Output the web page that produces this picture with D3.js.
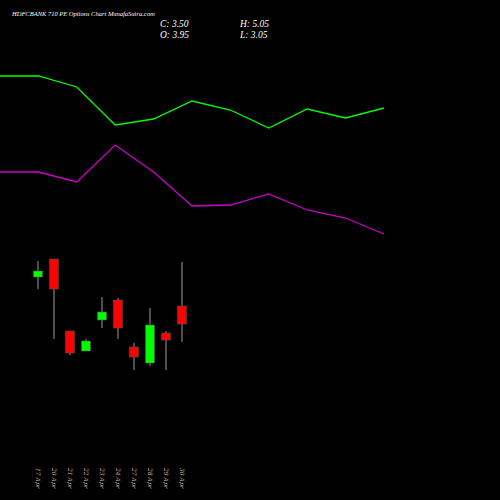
<!DOCTYPE html>
<html><head><meta charset="utf-8">
<script src="https://cdn.jsdelivr.net/npm/d3@7"></script>
<style>body{margin:0;background:#000}</style>
</head><body><svg id="c" width="500" height="500"></svg>
<script>
const dates = ['17 Apr','20 Apr','21 Apr','22 Apr','23 Apr','24 Apr','27 Apr','28 Apr','29 Apr','30 Apr']
const open  = [4.675,5.125,3.325,2.825,3.6,4.1,2.925,2.525,3.275,3.95]
const close = [4.825,4.375,2.775,3.075,3.8,3.4,2.675,3.475,3.1,3.5]
const high  = [5.075,5.125,3.325,3.125,4.175,4.15,3.025,3.9,3.325,5.05]
const low   = [4.375,3.125,2.725,2.825,3.4,3.125,2.35,2.45,2.35,3.05]
// upper (green) and lower (purple) indicator lines, 11 points
const greenLine  = [100,100,94.5,75.5,78.5,87.5,83,74,83.5,79,84]
const purpleLine = [52,52,47,65.5,52,35,35.5,41,33,29,21]

const svg = d3.select('#c')
svg.append('rect').attr('width',500).attr('height',500).attr('fill','#000')

const x = d3.scaleLinear().domain([0, 9]).range([38, 182])
const y = d3.scaleLinear().domain([3.95, 3.5]).range([306, 324])
const xl = d3.scaleLinear().domain([0, 10]).range([0, 384])
const yl = d3.scaleLinear().domain([0, 100]).range([276, 76])

const line = d3.line().x((d, i) => xl(i)).y(d => yl(d))
svg.append('path').attr('d', line(greenLine)).attr('fill','none').attr('stroke','#00ff00').attr('stroke-width',1.3)
svg.append('path').attr('d', line(purpleLine)).attr('fill','none').attr('stroke','#cc00cc').attr('stroke-width',1.3)

const data = dates.map((d, i) => ({d, o: open[i], c: close[i], h: high[i], l: low[i]}))
const g = svg.selectAll('g.k').data(data).join('g')
g.append('line')
  .attr('x1', (d, i) => x(i)).attr('x2', (d, i) => x(i))
  .attr('y1', d => y(d.h)).attr('y2', d => y(d.l))
  .attr('stroke', '#999').attr('stroke-width', 1)
g.append('rect')
  .attr('x', (d, i) => x(i) - 4.5).attr('width', 9)
  .attr('y', d => y(Math.max(d.o, d.c)))
  .attr('height', d => Math.max(1, Math.abs(y(d.o) - y(d.c))))
  .attr('fill', d => d.c >= d.o ? '#00ff00' : '#ff0000')
  .attr('stroke', '#555').attr('stroke-width', 0.5)

svg.selectAll('text.lbl').data(dates).join('text')
  .attr('transform', (d, i) => `translate(${x(i) - 2},468) rotate(90)`)
  .attr('fill', '#bbb').attr('font-family', 'DejaVu Serif').attr('font-style', 'italic')
  .attr('font-size', 6).text(d => d)

const t = (s, tx, ty, fs) => svg.append('text').attr('x', tx).attr('y', ty)
  .attr('fill', '#fff').attr('font-family', 'Liberation Serif').attr('font-style', 'italic')
  .attr('font-size', fs).text(s)
t('HDFCBANK 710  PE Options  Chart MunafaSutra.com', 12, 16, 6.5)
t('C: 3.50', 160, 27, 9.5)
t('O: 3.95', 160, 38, 9.5)
t('H: 5.05', 240, 27, 9.5)
t('L: 3.05', 240, 38, 9.5)
</script></body></html>
